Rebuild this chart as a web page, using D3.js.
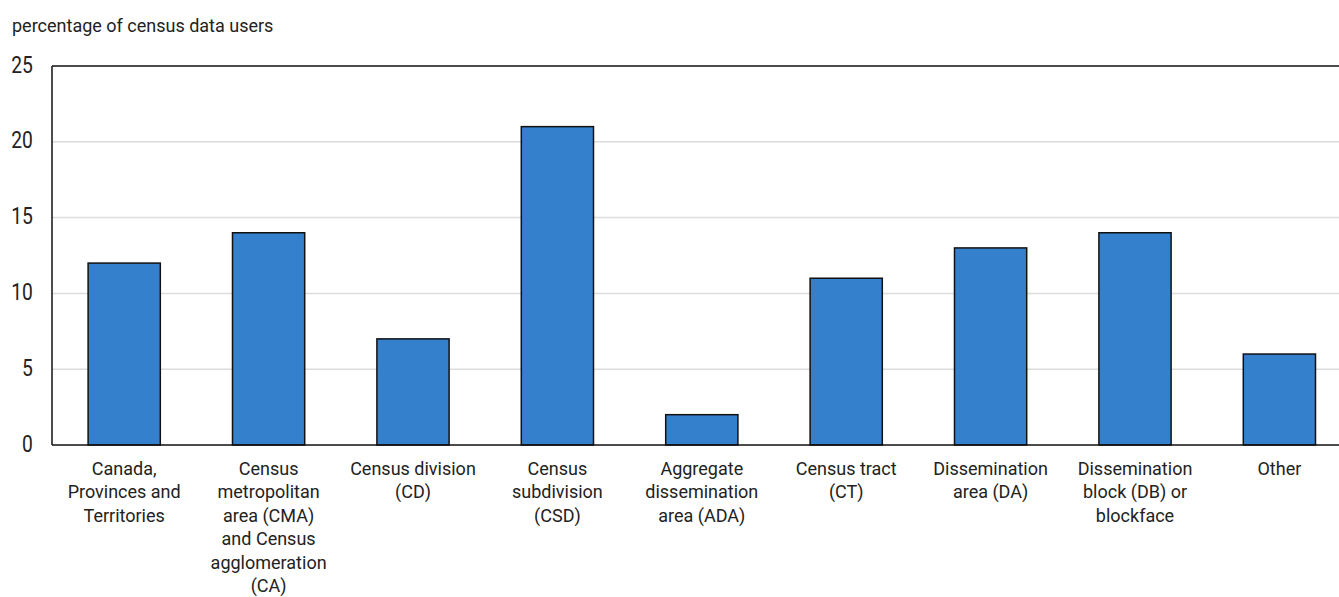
<!DOCTYPE html>
<html>
<head>
<meta charset="utf-8">
<script src="https://cdn.jsdelivr.net/npm/d3@7"></script>
<style>
  html, body { margin: 0; padding: 0; background: #fff; }
  svg { display: block; }
  text { font-family: "Roboto", "Liberation Sans", sans-serif; fill: #222; }
</style>
</head>
<body>
<svg id="chart" width="1339" height="597"></svg>
<script>
// Geographic levels used by census data users
const categories = ["Canada, Provinces and Territories", "CMA and CA", "CD", "CSD", "ADA", "CT", "DA", "DB", "Other"];
const categoryLines = [
  ["Canada,", "Provinces and", "Territories"],
  ["Census", "metropolitan", "area (CMA)", "and Census", "agglomeration", "(CA)"],
  ["Census division", "(CD)"],
  ["Census", "subdivision", "(CSD)"],
  ["Aggregate", "dissemination", "area (ADA)"],
  ["Census tract", "(CT)"],
  ["Dissemination", "area (DA)"],
  ["Dissemination", "block (DB) or", "blockface"],
  ["Other"]
];
const values = [12, 14, 7, 21, 2, 11, 13, 14, 6];
const yTicks = [0, 5, 10, 15, 20, 25];
const yTitle = "percentage of census data users";

const svg = d3.select("#chart");
const plotLeft = 52, plotTop = 66, plotBottom = 445, step = 144.4;
const plotRight = plotLeft + step * categories.length;

const x = d3.scaleBand().domain(categories).range([plotLeft, plotRight]).paddingInner(0.5).paddingOuter(0.25);
const y = d3.scaleLinear().domain([0, 25]).range([plotBottom, plotTop]);

// horizontal grid lines
svg.append("g")
  .selectAll("line")
  .data(yTicks.filter(t => t > 0 && t < 25))
  .join("line")
  .attr("x1", plotLeft).attr("x2", 1339)
  .attr("y1", d => y(d)).attr("y2", d => y(d))
  .attr("stroke", "#dcdcdc").attr("stroke-width", 1.5);

// bars
svg.append("g")
  .selectAll("rect")
  .data(values)
  .join("rect")
  .attr("x", (d, i) => x(categories[i]))
  .attr("y", d => y(d))
  .attr("width", x.bandwidth())
  .attr("height", d => y(0) - y(d))
  .attr("fill", "#3580cc")
  .attr("stroke", "#111")
  .attr("stroke-width", 1.5);

// frame: top, left and bottom edges
svg.append("line").attr("x1", plotLeft).attr("x2", 1339).attr("y1", plotTop).attr("y2", plotTop)
  .attr("stroke", "#111").attr("stroke-width", 1.5);
svg.append("line").attr("x1", plotLeft).attr("x2", 1339).attr("y1", plotBottom).attr("y2", plotBottom)
  .attr("stroke", "#111").attr("stroke-width", 1.5);
svg.append("line").attr("x1", plotLeft).attr("x2", plotLeft).attr("y1", plotTop).attr("y2", plotBottom)
  .attr("stroke", "#111").attr("stroke-width", 1.5);

// y axis labels (narrowed digits)
const yAxis = d3.axisLeft(y).tickValues(yTicks).tickSize(0).tickPadding(24);
const gy = svg.append("g").attr("transform", `translate(${plotLeft},0)`).call(yAxis);
gy.select(".domain").remove();
gy.selectAll("text")
  .style("font-size", "24px")
  .attr("fill", "#222")
  .attr("dy", "0.25em")
  .attr("transform", "scale(0.8,1)");

// category labels
const gx = svg.append("g");
categoryLines.forEach((lines, i) => {
  const cx = x(categories[i]) + x.bandwidth() / 2;
  const t = gx.append("text")
    .attr("text-anchor", "middle")
    .attr("x", cx)
    .attr("y", 475)
    .style("font-size", "18px");
  lines.forEach((ln, j) => {
    t.append("tspan").attr("x", cx).attr("dy", j === 0 ? 0 : 23.4).text(ln);
  });
});

// y title
svg.append("text")
  .attr("x", 12).attr("y", 32)
  .style("font-size", "18px")
  .text(yTitle);
</script>
</body>
</html>
